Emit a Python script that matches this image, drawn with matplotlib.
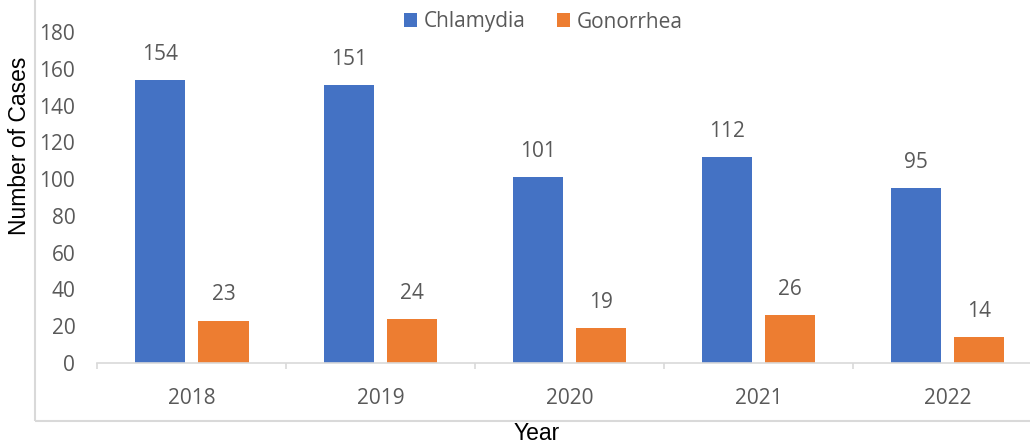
import numpy as np
import matplotlib.pyplot as plt
from matplotlib.patches import Rectangle

years = ["2018", "2019", "2020", "2021", "2022"]
chlamydia = [154, 151, 101, 112, 95]
gonorrhea = [23, 24, 19, 26, 14]

blue = "#4472C4"
orange = "#ED7D31"
grey = "#595959"

fig = plt.figure(figsize=(10.3, 4.45), dpi=100)
ax = fig.add_axes([97.5/1030, 1-363/445, 944.5/1030, 331/445])

x = np.arange(len(years))
w = 0.265
off = 0.167
b1 = ax.bar(x - off, chlamydia, w, color=blue, label="Chlamydia")
b2 = ax.bar(x + off, gonorrhea, w, color=orange, label="Gonorrhea")

ax.bar_label(b1, padding=11, fontsize=15, color=grey, family="Open Sans")
ax.bar_label(b2, padding=11, fontsize=15, color=grey, family="Open Sans")

ax.set_xlim(-0.5, len(years) - 0.5)
ax.set_ylim(0, 180)
ax.set_yticks(np.arange(0, 181, 20))

ax.set_xticks(x)
ax.set_xticklabels(years)
ax.set_xticks(np.arange(-0.5, len(years), 1), minor=True)
ax.tick_params(axis="x", which="major", length=0, pad=18)
ax.tick_params(axis="x", which="minor", length=4, width=1.2, color="#d9d9d9")
ax.tick_params(axis="y", length=0, pad=16)
for lab in ax.get_xticklabels() + ax.get_yticklabels():
    lab.set_family("Open Sans")
    lab.set_fontsize(15)
    lab.set_color(grey)

for s in ["left", "right", "top"]:
    ax.spines[s].set_visible(False)
ax.spines["bottom"].set_color("#d9d9d9")
ax.spines["bottom"].set_linewidth(1.2)

ax.set_ylabel("Number of Cases", fontsize=16.5, family="Liberation Sans")
ax.yaxis.set_label_coords(-0.070, 0.656)
ax.set_xlabel("Year", fontsize=16.5, family="Liberation Sans")
ax.xaxis.set_label_coords(0.465, -0.178)

leg = fig.legend(handles=[b1, b2], loc="center", bbox_to_anchor=(543/1030, 1-22/445),
                 ncol=2, frameon=False, handlelength=0.65, handleheight=0.65,
                 handletextpad=0.3, columnspacing=1.5,
                 prop={"family": "Open Sans", "size": 15})
for t in leg.get_texts():
    t.set_color(grey)

# chart area border (left and bottom edges visible)
fig.add_artist(Rectangle((35/1030, 1-421/445), 1.2, 1.2, transform=fig.transFigure,
                         fill=False, edgecolor="#d9d9d9", linewidth=1.5))

fig.savefig("out.png", dpi=100)
